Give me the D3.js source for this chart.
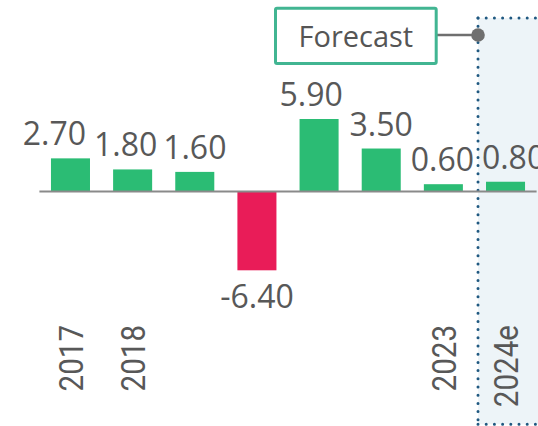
<!DOCTYPE html>
<html>
<head>
<meta charset="utf-8">
<script src="https://cdn.jsdelivr.net/npm/d3@7"></script>
<style>
  html, body { margin: 0; padding: 0; background: #fff; }
  svg { display: block; }
</style>
</head>
<body>
<svg id="chart" width="538" height="426"></svg>
<script>
// Annual change, with the last year an estimate
const categories = ["2017", "2018", "2019", "2020", "2021", "2022", "2023", "2024e"];
const values = [2.70, 1.80, 1.60, -6.40, 5.90, 3.50, 0.60, 0.80];
const tickLabels = ["2017", "2018", "", "", "", "", "2023", "2024e"];
const forecastCategory = "2024e";
const forecastText = "Forecast";

// horizontal nudges that keep neighbouring value labels apart
const labelShift = [-16, -7, 0, 0, -8, 0, -1, 8];

const svg = d3.select("#chart");
const W = 538, H = 426;

const x = d3.scaleBand()
  .domain(categories)
  .range([39.4, 536.6])
  .paddingInner(0.372)
  .paddingOuter(0.186);

const y = d3.scaleLinear()
  .domain([-6.4, 5.9])
  .range([270.3, 119]);

const y0 = y(0);

// forecast zone
const fx = x(forecastCategory) - 8;
svg.append("rect")
  .attr("x", fx).attr("y", 18)
  .attr("width", W - fx + 20).attr("height", 424.3 - 18)
  .attr("fill", "#edf4f8");
const dotStyle = sel => sel
  .attr("stroke", "#1f5880").attr("stroke-width", 3)
  .attr("stroke-linecap", "round").attr("stroke-dasharray", "0 8.2")
  .attr("fill", "none");
svg.append("line").attr("x1", fx).attr("x2", fx).attr("y1", 18).attr("y2", 424.3).call(dotStyle);
svg.append("line").attr("x1", fx).attr("x2", W + 10).attr("y1", 18).attr("y2", 18).call(dotStyle);
svg.append("line").attr("x1", fx).attr("x2", W + 10).attr("y1", 424.3).attr("y2", 424.3).call(dotStyle);

// bars
svg.append("g").selectAll("rect")
  .data(values)
  .join("rect")
  .attr("x", (d, i) => x(categories[i]))
  .attr("width", x.bandwidth())
  .attr("y", d => Math.min(y(d), y0))
  .attr("height", d => Math.abs(y(d) - y0))
  .attr("fill", d => d >= 0 ? "#2bbc74" : "#e91c58");

// zero line
svg.append("line")
  .attr("x1", x.range()[0]).attr("x2", x.range()[1])
  .attr("y1", y0).attr("y2", y0)
  .attr("stroke", "#8a8a8a").attr("stroke-width", 2);

// value labels
svg.append("g").selectAll("text")
  .data(values)
  .join("text")
  .attr("x", (d, i) => x(categories[i]) + x.bandwidth() / 2 + labelShift[i])
  .attr("y", d => d >= 0 ? y(d) - 13 : y(d) + 37.5)
  .attr("text-anchor", "middle")
  .attr("font-family", "'Open Sans', sans-serif")
  .attr("font-size", 32)
  .attr("fill", "#585858")
  .text(d => d.toFixed(2));

// category axis labels, rotated
const xAxis = d3.axisBottom(x).tickSize(0).tickFormat((d, i) => tickLabels[i]);
const axisG = svg.append("g").attr("transform", `translate(0,325)`).call(xAxis);
axisG.select(".domain").remove();
axisG.selectAll("text")
  .attr("font-family", "Roboto, sans-serif")
  .attr("font-size", 34)
  .attr("fill", "#585858")
  .attr("text-anchor", "end")
  .attr("dy", null)
  .attr("y", 0)
  .attr("x", 0)
  .attr("transform", "translate(12.2,0) rotate(-90) scale(0.87,1)");

// forecast callout
const box = { x: 275.5, y: 8.2, w: 160.7, h: 55.3 };
const cy = 35;
svg.append("line")
  .attr("x1", box.x + box.w).attr("x2", fx)
  .attr("y1", cy).attr("y2", cy)
  .attr("stroke", "#6f6f6f").attr("stroke-width", 2.5);
svg.append("circle")
  .attr("cx", fx).attr("cy", cy).attr("r", 6.8)
  .attr("fill", "#6f6f6f");
svg.append("rect")
  .attr("x", box.x).attr("y", box.y)
  .attr("width", box.w).attr("height", box.h)
  .attr("rx", 1.5)
  .attr("fill", "#fff")
  .attr("stroke", "#41b592").attr("stroke-width", 3);
svg.append("text")
  .attr("x", box.x + box.w / 2).attr("y", 46.5)
  .attr("text-anchor", "middle")
  .attr("font-family", "'Open Sans', sans-serif")
  .attr("font-size", 29)
  .attr("fill", "#555")
  .text(forecastText);
</script>
</body>
</html>
